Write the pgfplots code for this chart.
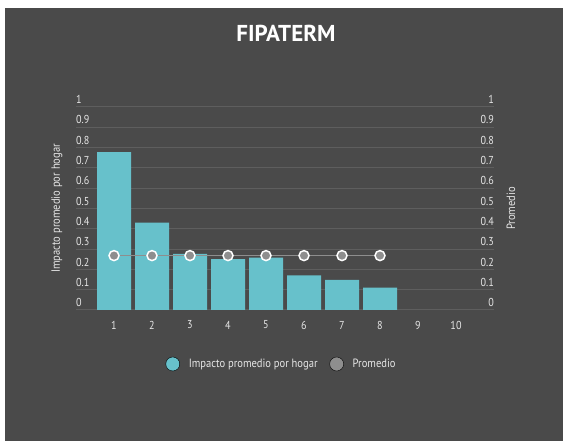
\documentclass[border=0pt]{standalone}
\usepackage{pgfplots}
\pgfplotsset{compat=1.18}
\usepackage{fontspec}
\setmainfont[FakeStretch=0.88]{PT Sans}
\newfontfamily\titlefont{PT Sans}
\definecolor{bg}{HTML}{4A4A4A}
\definecolor{gridc}{HTML}{5E5E5E}
\definecolor{barc}{HTML}{67C1CB}
\definecolor{dotc}{HTML}{8E8E8E}
\definecolor{linec}{HTML}{8E8E8E}
\definecolor{txtc}{HTML}{E6E6E6}
\begin{document}
\begin{tikzpicture}[x=1pt,y=1pt]
\fill[white] (0,0) rectangle (563,441);
\fill[bg] (5,0) rectangle (563,433);
\begin{axis}[
  at={(76pt,131pt)}, anchor=south west,
  scale only axis, width=418pt, height=203pt,
  xmin=0, xmax=11, ymin=0, ymax=1,
  axis x line*=bottom, axis y line*=left,
  axis line style={draw=none},
  major tick length=0pt,
  ymajorgrids, major grid style={gridc, line width=1pt},
  ytick={0,0.1,0.2,0.3,0.4,0.5,0.6,0.7,0.8,0.9,1},
  yticklabels={0,0.1,0.2,0.3,0.4,0.5,0.6,0.7,0.8,0.9,1},
  yticklabel style={anchor=south west, inner sep=0pt, xshift=0pt, yshift=3pt, text=txtc, font=\fontsize{11.5}{13}\selectfont},
  xtick={1,2,3,4,5,6,7,8,9,10},
  xticklabels={1,2,3,4,5,6,7,8,9,10},
  xticklabel style={anchor=center, inner sep=0pt, yshift=-15pt, text=txtc, font=\fontsize{11.5}{13}\selectfont},
  ylabel={Impacto promedio por hogar},
  every axis y label/.style={at={(rel axis cs:0,0.5)}, xshift=-19pt, rotate=90, anchor=center, text=txtc, font=\fontsize{12}{14}\selectfont},
  legend style={at={(0.492,-0.266)}, anchor=center, draw=none, fill=none, text=txtc, font=\fontsize{12}{14}\selectfont, legend columns=2,
    /tikz/every odd column/.append style={column sep=7pt},
    /tikz/every even column/.append style={column sep=10pt}},
  legend cell align=left,
]
\addplot[ybar, bar width=34pt, fill=barc, draw=none, forget plot] coordinates {(1,0.778)(2,0.43)(3,0.276)(4,0.25)(5,0.258)(6,0.171)(7,0.148)(8,0.11)};
\addplot[linec, line width=1.5pt, mark=*, mark size=5pt, mark options={fill=dotc, draw=white, line width=1.5pt}, forget plot] coordinates {(1,0.268)(2,0.268)(3,0.268)(4,0.268)(5,0.268)(6,0.268)(7,0.268)(8,0.268)};
\addlegendimage{only marks, mark=*, mark size=7pt, mark options={fill=barc, draw=none}}
\addlegendentry{Impacto promedio por hogar}
\addlegendimage{only marks, mark=*, mark size=7pt, mark options={fill=dotc, draw=none}}
\addlegendentry{Promedio}
\end{axis}
\begin{axis}[
  at={(76pt,131pt)}, anchor=south west,
  scale only axis, width=418pt, height=203pt,
  xmin=0, xmax=11, ymin=0, ymax=1,
  axis x line=none, axis y line*=right,
  axis line style={draw=none},
  major tick length=0pt,
  ytick={0,0.1,0.2,0.3,0.4,0.5,0.6,0.7,0.8,0.9,1},
  yticklabels={0,0.1,0.2,0.3,0.4,0.5,0.6,0.7,0.8,0.9,1},
  yticklabel style={anchor=south east, inner sep=0pt, xshift=0pt, yshift=3pt, text=txtc, font=\fontsize{11.5}{13}\selectfont},
  ylabel={Promedio},
  every axis y label/.style={at={(rel axis cs:1,0.5)}, xshift=17pt, rotate=90, anchor=center, text=txtc, font=\fontsize{12}{14}\selectfont},
]
\end{axis}
\node[text=white, font=\titlefont\bfseries\fontsize{23}{27}\selectfont] at (286,408) {FIPATERM};
\end{tikzpicture}
\end{document}
